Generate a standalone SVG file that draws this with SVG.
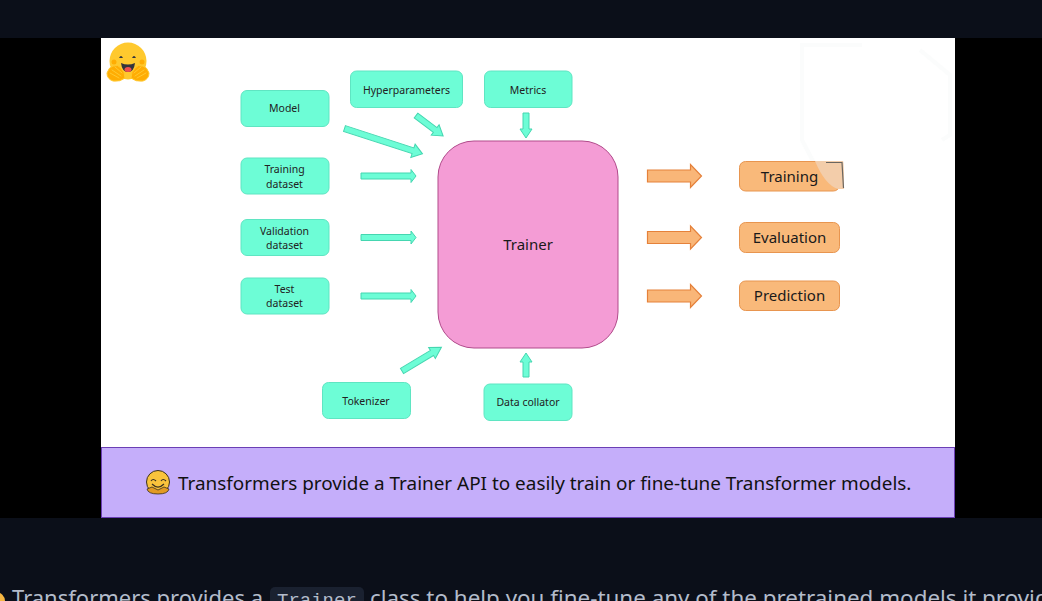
<svg xmlns="http://www.w3.org/2000/svg" width="1042" height="601" viewBox="0 0 1042 601">
<style>
text{font-family:"Noto Sans","Open Sans","Liberation Sans",sans-serif;text-anchor:middle;fill:#1a1a1a}
.g rect{fill:#6dfdd6;stroke:#5fe5c2;stroke-width:1}
.g text{font-size:10.5px;fill:#222}
.o rect{fill:#f9b97a;stroke:#e8954f;stroke-width:1}
.o text{font-size:15px}
.ga{fill:#6dfdd6;stroke:#45d6b0;stroke-width:1}
.oa{fill:#f9b678;stroke:#e5813a;stroke-width:1.200}
.cap{font-size:22px;text-anchor:start;fill:#b3bccb}
.hand{fill:#ffad03;stroke:#ffc92e;stroke-width:1}
.finger{fill:none;stroke:#ffc92e;stroke-width:1;stroke-linecap:round}
</style>
<defs>
<polygon id="ga" points="0,-3 50,-3 50,-6.5 55,0 50,6.5 50,3 0,3"/>
<polygon id="oa" points="0,-6 43,-6 43,-11.5 54,0 43,11.5 43,6 0,6"/>
</defs>
<rect width="1042" height="601" fill="#0b0f19"/>
<rect x="0" y="38" width="1042" height="480" fill="#000"/>
<rect x="101" y="38" width="854" height="480" fill="#fff"/>
<path d="M800 45H862M802 45V140L815 165M920 50L950 75V135L942 140" fill="none" stroke="#fbfcfc" stroke-width="4"/>
<g id="emoji-logo">
<circle cx="128" cy="61" r="18.500" fill="#ffc92e"/>
<circle cx="114" cy="62" r="2.500" fill="#ffad03"/><circle cx="142" cy="62" r="2.500" fill="#ffad03"/>
<path d="M121 63Q128 66 135 63Q134 72 128 72Q122 72 121 63Z" fill="#32343d"/>
<ellipse cx="128" cy="69.500" rx="3.500" ry="2.500" fill="#ef4e4e"/>
<path d="M119 58Q121 54 123 58Z" fill="#32343d"/><path d="M132 58Q134 54 136 58Z" fill="#32343d"/>
<path class="hand" d="M107 73Q109 67 113 66Q118 64 121 68Q125 72 125 78Q120 82 113 81Q107 79 107 73Z"/>
<path class="hand" d="M149 73Q147 67 143 66Q138 64 135 68Q131 72 131 78Q136 82 143 81Q149 79 149 73Z"/>
<path class="finger" d="M110 73L119 78M112 70L121 76M115 67L122 73M146 73L137 78M144 70L135 76M141 67L134 73"/>
</g>
<g id="connectors">
<polygon class="ga" points="0,-3 72,-3 72,-7 82,0 72,7 72,3 0,3" transform="translate(344.500 128.500) rotate(18)"/>
<polygon class="ga" points="0,-3 24,-3 24,-6.5 34,0 24,6.500 24,3 0,3" transform="translate(416 115.500) rotate(37)"/>
<polygon class="ga" points="0,-3 16,-3 16,-6 25,0 16,6 16,3 0,3" transform="translate(526 113) rotate(90)"/>
<use href="#ga" class="ga" transform="translate(361 176)"/>
<use href="#ga" class="ga" transform="translate(361 237.500)"/>
<use href="#ga" class="ga" transform="translate(361 296)"/>
<polygon class="ga" points="0,-3 35,-3 35,-6.500 46,0 35,6.500 35,3 0,3" transform="translate(402 371) rotate(-31)"/>
<polygon class="ga" points="0,-3 15,-3 15,-6 24,0 15,6 15,3 0,3" transform="translate(526 377) rotate(-90)"/>
<use href="#oa" class="oa" transform="translate(647.500 176)"/>
<use href="#oa" class="oa" transform="translate(647.500 237.500)"/>
<use href="#oa" class="oa" transform="translate(647.500 296)"/>
</g>
<g id="model" class="g"><rect x="241" y="90.500" width="88" height="36" rx="6"/><text x="284.500" y="112">Model</text></g>
<g id="hyperparameters" class="g"><rect x="350.500" y="71" width="112" height="36.500" rx="6"/><text x="406.500" y="94">Hyperparameters</text></g>
<g id="metrics" class="g"><rect x="484.500" y="71" width="87.500" height="36.500" rx="6"/><text x="528" y="94">Metrics</text></g>
<g id="training-dataset" class="g"><rect x="241" y="158" width="88" height="36" rx="6"/><text x="284.500" y="173">Training</text><text x="284.500" y="188">dataset</text></g>
<g id="validation-dataset" class="g"><rect x="241" y="219.500" width="88" height="36" rx="6"/><text x="284.500" y="235">Validation</text><text x="284.500" y="249">dataset</text></g>
<g id="test-dataset" class="g"><rect x="241" y="278" width="88" height="36" rx="6"/><text x="284.500" y="293">Test</text><text x="284.500" y="307">dataset</text></g>
<g id="tokenizer" class="g"><rect x="322.500" y="382.500" width="88" height="36" rx="6"/><text x="366" y="405">Tokenizer</text></g>
<g id="data-collator" class="g"><rect x="484" y="384" width="88" height="36.500" rx="6"/><text x="528" y="406">Data collator</text></g>
<g id="trainer"><rect x="438" y="141" width="180" height="207" rx="36" fill="#f49cd5" stroke="#b14a8b"/><text x="528" y="250" font-size="15">Trainer</text></g>
<g id="training" class="o"><rect x="739.500" y="161.500" width="100" height="29.500" rx="6"/><text x="789.500" y="182">Training</text>
<path d="M815 161H843Q844 162 844 189H838Q825 185 815 161Z" fill="#f3cdaa"/><path d="M826 162.500H842L843.500 188" fill="none" stroke="#6a6660" stroke-width="1.200"/></g>
<g id="evaluation" class="o"><rect x="739.500" y="222.500" width="100" height="30" rx="6"/><text x="789.500" y="243">Evaluation</text></g>
<g id="prediction" class="o"><rect x="739.500" y="281" width="100" height="29.500" rx="6"/><text x="789.500" y="301">Prediction</text></g>
<g id="banner">
<rect x="101.500" y="447.500" width="853" height="70" fill="#c5aefa" stroke="#6b3fb5"/>
<circle cx="158" cy="482" r="11.500" fill="#f9c33c" stroke="#3a3020" stroke-width="1"/>
<path d="M151 481Q153 478 156 481M161 481Q163 478 166 481M152 484Q158 490 164 484" fill="none" stroke="#3a3020" stroke-width="1.200"/>
<path d="M147 489Q148 494 158 494Q168 494 169 489L164 487L158 490L152 487Z" fill="#e29a22" stroke="#3a3020" stroke-width="0.800"/>
<text x="178" y="490" font-size="18.920" style="text-anchor:start;fill:#111">Transformers provide a Trainer API to easily train or fine-tune Transformer models.</text>
</g>
<g id="caption">
<circle cx="-4" cy="601" r="9" fill="#f5b642"/>
<rect x="270" y="587" width="94" height="24" rx="5" fill="#1a2130"/>
<text class="cap" x="12" y="606">Transformers provides a</text>
<text class="cap" x="277" y="606" style="font-size:19px;font-family:'Liberation Mono','DejaVu Sans Mono',monospace">Trainer</text>
<text class="cap" x="370" y="606" style="font-size:22.400px">class to help you fine-tune any of the pretrained models it provid</text>
</g>
</svg>
